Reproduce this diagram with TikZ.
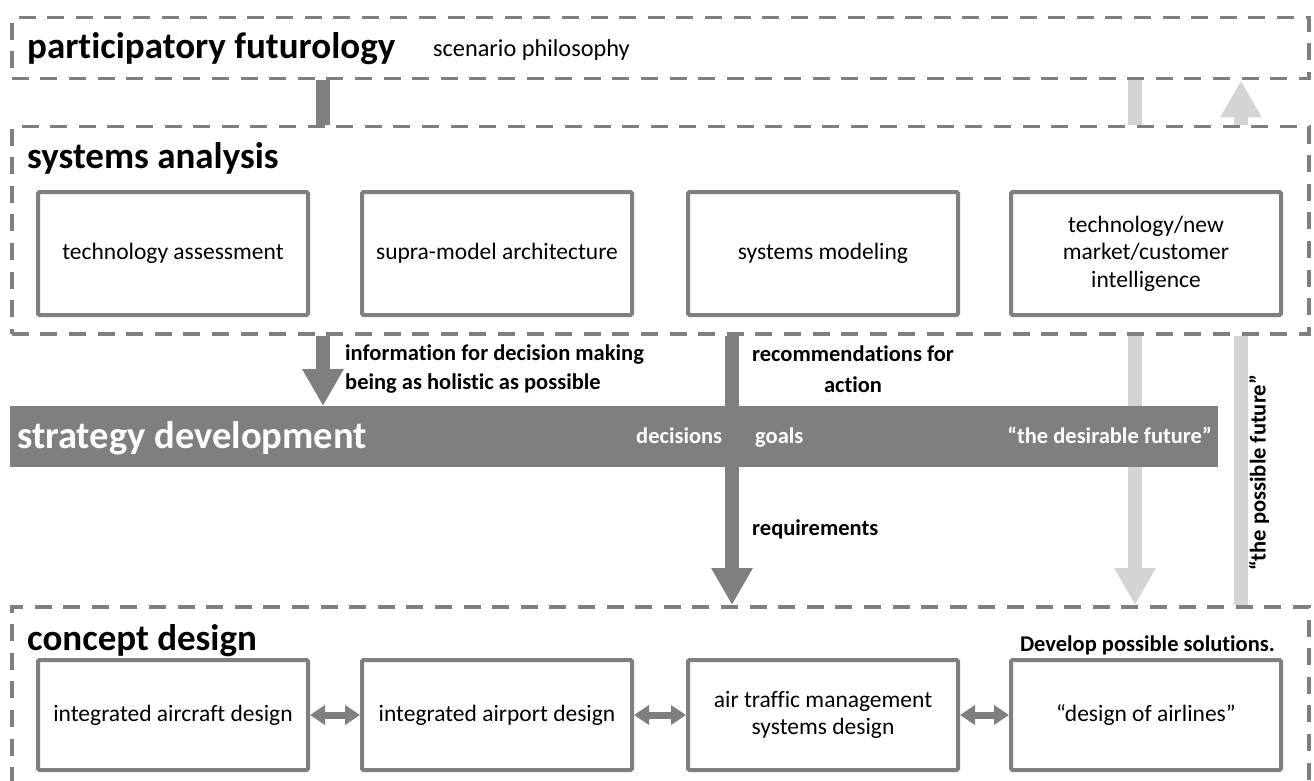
\documentclass[tikz,border=0pt]{standalone}
\usepackage{fontspec}
\setmainfont{Carlito}[Ligatures=NoCommon]
\usetikzlibrary{arrows.meta}
\definecolor{frame}{HTML}{7F7F7F}
\definecolor{pale}{HTML}{D4D4D4}

\tikzset{
  group/.style={draw=frame, line width=3.5pt, dash pattern=on 17pt off 11.6pt,
                inner sep=0, anchor=north west},
  unit/.style={draw=frame, line width=4pt, fill=white, rounded corners=1.5pt,
               minimum width=270pt, inner sep=2pt, anchor=north west,
               font=\fontsize{23.5}{27.5}\selectfont, align=center},
  heading/.style={font=\fontsize{37}{44}\selectfont\bfseries, anchor=base west, inner sep=0},
  plain/.style={font=\fontsize{24.3}{28}\selectfont, inner sep=0},
  label/.style={font=\fontsize{22.5}{29}\selectfont\bfseries, inner sep=0},
  darkflow/.style={draw=frame, line width=14pt},
  paleflow/.style={draw=pale, line width=14pt},
  head/.style={-{Triangle[width=39pt,length=37pt]}},
  link/.style={draw=frame, line width=7pt,
               {Triangle[width=19pt,length=15pt]}-{Triangle[width=19pt,length=15pt]}},
}

\begin{document}
\begin{tikzpicture}[x=1pt,y=-1pt]
  \useasboundingbox (0,0) rectangle (1314,781);
  \clip (0,0) rectangle (1314,781);

  % column positions of the vertical flows
  \coordinate (xa) at (323,0);
  \coordinate (xb) at (732,0);
  \coordinate (xc) at (1135,0);
  \coordinate (xd) at (1241,0);

  % dashed layers
  \node[group, minimum width=1297pt, minimum height=61pt] (pf) at (10,16) {};
  \node[group, minimum width=1297pt, minimum height=207pt] (sa) at (10,125) {};
  \node[group, minimum width=1297pt, minimum height=220pt] (cd) at (10,605) {};

  % layer headings
  \node[heading] (pft) at (27,59) {participatory futurology};
  \node[plain, anchor=base west] (pfs) at (433,57) {scenario philosophy};
  \node[heading] (sat) at (27,168) {systems analysis};
  \node[heading] (cdt) at (27,650) {concept design};
  \node[label, anchor=base east] (cds) at (1275,651) {Develop possible solutions.};

  % systems analysis units
  \node[unit, minimum height=123pt] (s1) at (36,190) {technology assessment};
  \node[unit, minimum height=123pt] (s2) at (360,190) {supra-model architecture};
  \node[unit, minimum height=123pt] (s3) at (686,190) {systems modeling};
  \node[unit, minimum height=123pt] (s4) at (1009,190) {technology/new\\market/customer\\intelligence};

  % concept design units
  \node[unit, minimum height=110pt] (c1) at (36,658) {integrated aircraft design};
  \node[unit, minimum height=110pt] (c2) at (360,658) {integrated airport design};
  \node[unit, minimum height=110pt] (c3) at (686,658) {air traffic management\\systems design};
  \node[unit, minimum height=110pt] (c4) at (1009,658) {“design of airlines”};

  \draw[link] (c1.east) -- (c2.west);
  \draw[link] (c2.east) -- (c3.west);
  \draw[link] (c3.east) -- (c4.west);

  % pale flows: intelligence down to design, possible future back up
  \draw[paleflow] (pf.south -| xc) -- (sa.north -| xc);
  \draw[paleflow, head] (sa.south -| xc) -- (cd.north -| xc);
  \draw[paleflow] (cd.north -| xd) -- (sa.south -| xd);
  \draw[paleflow, head] (sa.north -| xd) -- (pf.south -| xd);

  % strategy development band
  \node[fill=frame, minimum width=1208pt, minimum height=61pt, inner sep=0,
        anchor=north west] (sd) at (10,406) {};
  \node[heading, text=white, font=\fontsize{38.5}{44}\selectfont\bfseries]
    (sdt) at (17,448) {strategy development};
  \node[label, text=white, anchor=base west] (dec) at (636,443) {decisions};
  \node[label, text=white, anchor=base west] (gls) at (755,443) {goals};
  \node[label, text=white, anchor=base east] (dfu) at (1212,443) {“the desirable future”};

  % dark flows
  \draw[darkflow] (pf.south -| xa) -- (sa.north -| xa);
  \draw[darkflow, head] (sa.south -| xa) -- (sd.north -| xa);
  \draw[darkflow] (sa.south -| xb) -- (sd.north -| xb);
  \draw[darkflow, head] (sd.south -| xb) -- (cd.north -| xb);

  % flow labels
  \node[label, anchor=base west, align=left] (inf) at (345,389)
    {information for decision making\\being as holistic as possible};
  \node[label, anchor=base, align=center,
        font=\fontsize{22.5}{31}\selectfont\bfseries] (rec) at (853,392)
    {recommendations for\\action};
  \node[label, anchor=base west] (req) at (752,535) {requirements};
  \node[label, rotate=90] (pos) at (1259,473) {“the possible future”};
\end{tikzpicture}
\end{document}
